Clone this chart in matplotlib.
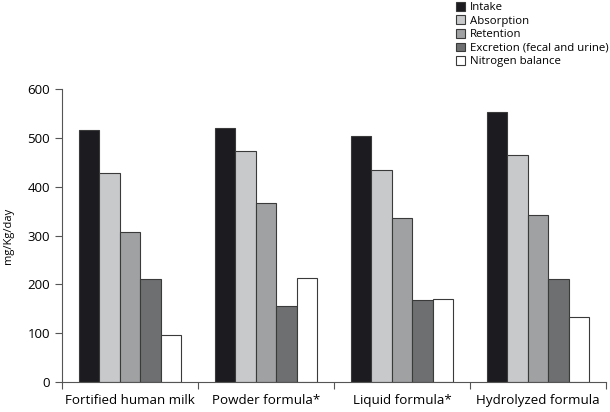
import matplotlib
matplotlib.use("Agg")
import matplotlib.pyplot as plt
import numpy as np

plt.rcParams['font.family'] = ['Open Sans', 'DejaVu Sans']

categories = ["Fortified human milk", "Powder formula*", "Liquid formula*", "Hydrolyzed formula"]
series = ["Intake", "Absorption", "Retention", "Excretion (fecal and urine)", "Nitrogen balance"]
intake = [517, 521, 505, 553]
absorption = [428, 473, 434, 465]
retention = [307, 367, 337, 343]
excretion = [211, 155, 168, 210]
nitrogen_balance = [96, 213, 170, 133]
values = [intake, absorption, retention, excretion, nitrogen_balance]
colors = ["#1c1b1f", "#c8c9cb", "#a0a1a3", "#6e6f71", "#ffffff"]

fig = plt.figure(figsize=(6.10, 4.12), dpi=100)
ax = fig.add_axes([0.1016, 0.0735, 0.8918, 0.7095])

width = 0.15
x = np.arange(len(categories))
for k, (name, vals, c) in enumerate(zip(series, values, colors)):
    ax.bar(x + 0.125 + (k + 0.5) * width, vals, width, color=c,
           edgecolor="#3a3a3a", linewidth=0.8, label=name)

ax.set_xlim(0, len(categories))
ax.set_ylim(0, 600)
ax.set_yticks(range(0, 601, 100))
ax.set_xticks(np.arange(len(categories) + 1))
ax.set_xticklabels([])
ax.set_xticks(x + 0.5, minor=True)
ax.set_xticklabels(categories, minor=True, fontsize=9.6)
ax.tick_params(axis='x', which='minor', length=0, pad=9)
ax.tick_params(axis='x', which='major', length=5, direction='out', color="#555555")
ax.tick_params(axis='y', length=5, direction='out', labelsize=9.5, color="#555555")
for s in ['top', 'right']:
    ax.spines[s].set_visible(False)
for s in ['left', 'bottom']:
    ax.spines[s].set_color("#555555")
    ax.spines[s].set_linewidth(0.8)
ax.set_ylabel("mg/Kg/day", fontsize=8, labelpad=10)

fig.legend(loc='upper left', bbox_to_anchor=(0.735, 1.015), frameon=False,
           fontsize=8.2, handlelength=0.8, handleheight=0.8, handletextpad=0.4,
           labelspacing=0.2, borderpad=0.2)

fig.savefig("out.png", dpi=100)
